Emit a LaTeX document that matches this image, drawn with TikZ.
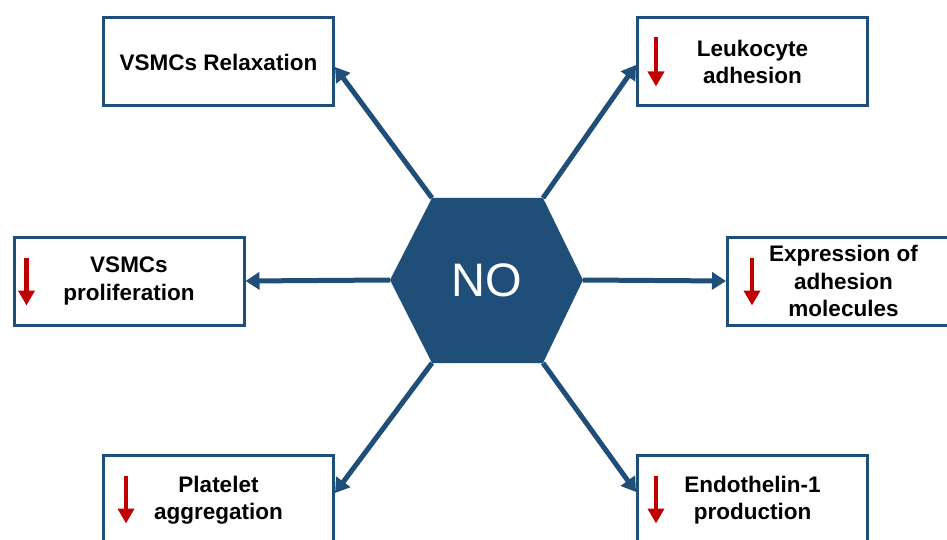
\documentclass[tikz,border=0pt]{standalone}
\usepackage{fontspec}
\setmainfont{Liberation Sans}
\usetikzlibrary{arrows.meta,calc}
\definecolor{navy}{RGB}{31,78,121}
\definecolor{dred}{RGB}{192,0,0}
\begin{document}
\begin{tikzpicture}[x=1pt,y=-1pt,
  box/.style={draw=navy, line width=3pt, fill=white, minimum width=230pt, minimum height=88pt,
    align=center, inner sep=0pt, font=\fontsize{22.5}{27.5}\selectfont\bfseries},
  conn/.style={draw=navy, line width=5pt, -{Triangle[length=14pt,width=17pt]}},
  down/.style={draw=dred, line width=4.5pt, -{Triangle[length=15pt,width=16pt]}}]
\useasboundingbox (0,0) rectangle (947,540);
\clip (0,0) rectangle (947,540);
% boxes
\node[box] (vr) at (218.5,62) {VSMCs Relaxation};
\node[box] (lk) at (752.5,62) {Leukocyte\\adhesion};
\node[box] (vp) at (129,281) {VSMCs\\proliferation};
\node[box, minimum width=232pt, font=\fontsize{22.5}{27.5}\selectfont\bfseries] (ex) at (843.5,281) {Expression of\\adhesion\\molecules};
\node[box, minimum height=90pt] (pa) at (218.5,500) {Platelet\\aggregation};
\node[box, minimum height=90pt] (et) at (752.5,500) {Endothelin-1\\production};
% hexagon vertices
\coordinate (h1) at (432,198);
\coordinate (h2) at (543,198);
\coordinate (h3) at (583,280);
\coordinate (h4) at (543,363);
\coordinate (h5) at (432,363);
\coordinate (h6) at (390,280);
% connectors
\draw[conn] (h1) -- ([yshift=-5pt]vr.east);
\draw[conn] (h2) -- ([yshift=-3pt]lk.west);
\draw[conn] (h6) -- (vp.east);
\draw[conn] (h3) -- (ex.west);
\draw[conn] (h5) -- ([yshift=7pt]pa.east);
\draw[conn] (h4) -- ([yshift=8pt]et.west);
% hexagon
\fill[navy] (h1) -- (h2) -- (h3) -- (h4) -- (h5) -- (h6) -- cycle;
\node[text=white, font=\fontsize{47}{47}\selectfont] (no) at (486.5,280) {NO};
% red down arrows
\draw[down] ($(lk.north west)+(20,21)$) -- ($(lk.north west)+(20,70)$);
\draw[down] ($(vp.north west)+(14,22)$) -- ($(vp.north west)+(14,70)$);
\draw[down] ($(ex.north west)+(26,22)$) -- ($(ex.north west)+(26,70)$);
\draw[down] ($(pa.north west)+(24,22)$) -- ($(pa.north west)+(24,70)$);
\draw[down] ($(et.north west)+(20,22)$) -- ($(et.north west)+(20,70)$);
\end{tikzpicture}
\end{document}
